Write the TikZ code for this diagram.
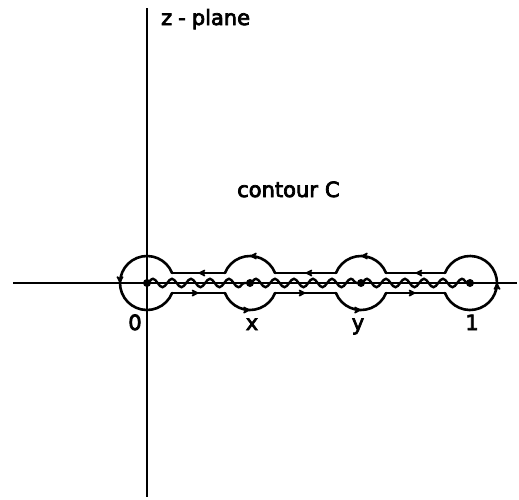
\documentclass[tikz,border=0pt]{standalone}
\usepackage{fontspec}
\setmainfont{DejaVu Sans}[FakeBold=3.5]
\usetikzlibrary{arrows.meta,decorations.markings,decorations.pathmorphing}
\tikzset{
  axisline/.style={line width=1.8pt},
  contourline/.style={line width=2.6pt,line cap=round},
  midarr/.style={contourline,postaction={decorate},
    decoration={markings,mark=at position 0.5 with {\arrow{Stealth[length=9pt,width=9pt,round]}}}},
  cutline/.style={line width=2.4pt,decorate,decoration={snake,amplitude=4.2pt,segment length=19pt}},
  pointdot/.style={circle,fill=black,inner sep=0pt,minimum size=8pt},
  lbl/.style={font=\fontsize{21}{25}\selectfont,inner sep=0pt}
}
\begin{document}
\begin{tikzpicture}[x=1pt,y=1pt]
\useasboundingbox (0,0) rectangle (519,-499);
% axes
\coordinate (xl) at (13,-283);
\coordinate (xr) at (517,-283);
\coordinate (yt) at (147,-8);
\coordinate (yb) at (147,-497);
\draw[axisline] (xl) -- (xr);
\draw[axisline] (yt) -- (yb);
% centers
\coordinate (c0) at (147,-283);
\coordinate (cx) at (250,-283);
\coordinate (cy) at (361,-283);
\coordinate (c1) at (470,-283);
% branch cut (wavy)
\draw[cutline] (c0) -- (cx);
\draw[cutline] (cx) -- (cy);
\draw[cutline] (cy) -- (c1);
% contour
\def\rr{27}
\def\dd{25.08}
\def\aa{21.74}
% upper lines (leftwards)
\draw[midarr] ([shift={(-\dd,10)}]c1) -- ([shift={(\dd,10)}]cy);
\draw[midarr] ([shift={(\dd,10)}]cy) arc[start angle=\aa,end angle=180-\aa,radius=\rr];
\draw[midarr] ([shift={(-\dd,10)}]cy) -- ([shift={(\dd,10)}]cx);
\draw[midarr] ([shift={(\dd,10)}]cx) arc[start angle=\aa,end angle=180-\aa,radius=\rr];
\draw[midarr] ([shift={(-\dd,10)}]cx) -- ([shift={(\dd,10)}]c0);
% circle around 0
\draw[midarr] ([shift={(\dd,10)}]c0) arc[start angle=\aa,end angle=360-\aa,radius=\rr];
% lower lines (rightwards)
\draw[midarr] ([shift={(\dd,-10)}]c0) -- ([shift={(-\dd,-10)}]cx);
\draw[midarr] ([shift={(-\dd,-10)}]cx) arc[start angle=180+\aa,end angle=360-\aa,radius=\rr];
\draw[midarr] ([shift={(\dd,-10)}]cx) -- ([shift={(-\dd,-10)}]cy);
\draw[midarr] ([shift={(-\dd,-10)}]cy) arc[start angle=180+\aa,end angle=360-\aa,radius=\rr];
\draw[midarr] ([shift={(\dd,-10)}]cy) -- ([shift={(-\dd,-10)}]c1);
% circle around 1
\draw[midarr] ([shift={(-\dd,-10)}]c1) arc[start angle=180+\aa,end angle=540-\aa,radius=\rr];
% points
\node[pointdot] (p0) at (c0) {};
\node[pointdot] (px) at (cx) {};
\node[pointdot] (py) at (cy) {};
\node[pointdot] (p1) at (c1) {};
% labels
\node[lbl,anchor=base west] (zp) at (161,-25) {z\kern6pt-\kern6pt plane};
\node[lbl,anchor=base west] (cc) at (237,-197) {contour\kern7pt C};
\node[lbl,anchor=base] (l0) at (135,-330) {0};
\node[lbl,anchor=base] (lx) at (252,-330) {x};
\node[lbl,anchor=base] (ly) at (358,-330) {y};
\node[lbl,anchor=base] (l1) at (472,-330) {1};
\end{tikzpicture}
\end{document}
